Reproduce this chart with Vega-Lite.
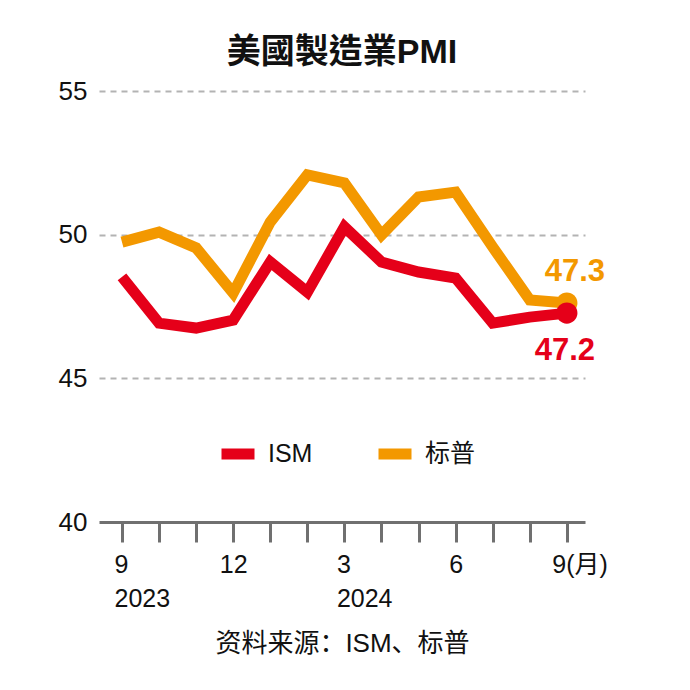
{
  "$schema": "https://vega.github.io/schema/vega-lite/v6.json",
  "width": 486,
  "height": 431,
  "autosize": {"type": "none"},
  "padding": {"left": 99, "top": 91, "right": 105, "bottom": 168},
  "background": "white",
  "title": {
    "text": "美國製造業PMI",
    "font": "Liberation Sans, Noto Sans CJK TC",
    "fontSize": 34,
    "fontWeight": "bold",
    "color": "#111111",
    "anchor": "middle",
    "offset": 8
  },
  "config": {
    "view": {"stroke": null},
    "font": "Liberation Sans, Noto Sans CJK SC"
  },
  "data": {
    "values": [
      {"idx": 0, "series": "ISM", "value": 48.53},
      {"idx": 1, "series": "ISM", "value": 46.92},
      {"idx": 2, "series": "ISM", "value": 46.75},
      {"idx": 3, "series": "ISM", "value": 47.03},
      {"idx": 4, "series": "ISM", "value": 49.05},
      {"idx": 5, "series": "ISM", "value": 48.0},
      {"idx": 6, "series": "ISM", "value": 50.27},
      {"idx": 7, "series": "ISM", "value": 49.05},
      {"idx": 8, "series": "ISM", "value": 48.7},
      {"idx": 9, "series": "ISM", "value": 48.49},
      {"idx": 10, "series": "ISM", "value": 46.92},
      {"idx": 11, "series": "ISM", "value": 47.13},
      {"idx": 12, "series": "ISM", "value": 47.27, "label": "47.2"},
      {"idx": 0, "series": "标普", "value": 49.74},
      {"idx": 1, "series": "标普", "value": 50.09},
      {"idx": 2, "series": "标普", "value": 49.54},
      {"idx": 3, "series": "标普", "value": 47.97},
      {"idx": 4, "series": "标普", "value": 50.44},
      {"idx": 5, "series": "标普", "value": 52.08},
      {"idx": 6, "series": "标普", "value": 51.8},
      {"idx": 7, "series": "标普", "value": 49.99},
      {"idx": 8, "series": "标普", "value": 51.31},
      {"idx": 9, "series": "标普", "value": 51.48},
      {"idx": 10, "series": "标普", "value": 49.57},
      {"idx": 11, "series": "标普", "value": 47.73},
      {"idx": 12, "series": "标普", "value": 47.62, "label": "47.3"}
    ]
  },
  "encoding": {
    "x": {
      "field": "idx",
      "type": "quantitative",
      "scale": {"domain": [-0.62, 12.49], "nice": false, "zero": false},
      "axis": {
        "values": [0, 1, 2, 3, 4, 5, 6, 7, 8, 9, 10, 11, 12],
        "labelExpr": "datum.value==0 ? ['9','2023'] : datum.value==3 ? '12' : datum.value==6 ? ['3','2024'] : datum.value==9 ? '6' : datum.value==12 ? '9(月)' : ''",
        "labelAlign": {"condition": {"test": "datum.value==0 || datum.value==6 || datum.value==12", "value": "left"}, "value": "center"},
        "labelOffset": {"condition": [{"test": "datum.value==0", "value": -8}, {"test": "datum.value==6", "value": -8}, {"test": "datum.value==12", "value": -15}], "value": 0},
        "labelFlush": false,
        "labelOverlap": false,
        "labelBound": false,
        "labelFontSize": 25,
        "labelLineHeight": 34,
        "labelPadding": 10,
        "labelColor": "#111111",
        "labelFont": "Liberation Sans, Noto Sans CJK SC",
        "grid": false,
        "domainColor": "#707070",
        "domainWidth": 3,
        "tickColor": "#707070",
        "tickWidth": 3,
        "tickSize": 20,
        "title": "资料来源：ISM、标普",
        "titleFont": "Liberation Sans, Noto Sans CJK SC",
        "titleFontSize": 26,
        "titleFontWeight": "normal",
        "titleColor": "#111111",
        "titlePadding": 19
      }
    },
    "y": {
      "field": "value",
      "type": "quantitative",
      "scale": {"domain": [40, 55], "nice": false, "zero": false},
      "axis": {
        "values": [40, 45, 50, 55],
        "domain": false,
        "ticks": false,
        "labelPadding": 12,
        "labelFontSize": 26,
        "labelColor": "#111111",
        "labelFont": "Liberation Sans",
        "grid": true,
        "gridDash": [6, 5],
        "gridColor": "#b3b3b3",
        "gridWidth": 2,
        "gridOpacity": {"condition": {"test": "datum.value==40", "value": 0}, "value": 1},
        "title": null
      }
    }
  },
  "layer": [
    {
      "mark": {"type": "line", "strokeWidth": 11, "strokeJoin": "miter"},
      "encoding": {
        "color": {
          "field": "series",
          "type": "nominal",
          "scale": {"domain": ["ISM", "标普"], "range": ["#E50019", "#F39800"]},
          "legend": {
            "title": null,
            "orient": "none",
            "legendX": 117,
            "legendY": 341,
            "direction": "horizontal",
            "symbolType": "stroke",
            "symbolStrokeWidth": 11,
            "symbolSize": 1089,
            "labelFontSize": 25,
            "labelFont": "Liberation Sans, Noto Sans CJK SC",
            "labelColor": "#111111",
            "labelOffset": 8,
            "columnPadding": 43
          }
        },
        "order": {"field": "idx", "type": "quantitative"}
      }
    },
    {
      "transform": [{"filter": "datum.idx == 12"}],
      "mark": {"type": "circle", "size": 450, "opacity": 1},
      "encoding": {
        "color": {"field": "series", "type": "nominal", "legend": null},
        "order": {"field": "series", "type": "nominal", "sort": "descending"}
      }
    },
    {
      "transform": [{"filter": "datum.idx == 12 && datum.series == '标普'"}],
      "mark": {"type": "text", "fontSize": 31, "fontWeight": "bold", "font": "Liberation Sans", "dx": 8, "dy": -31, "align": "center", "baseline": "middle", "color": "#F39800"},
      "encoding": {"text": {"field": "label"}}
    },
    {
      "transform": [{"filter": "datum.idx == 12 && datum.series == 'ISM'"}],
      "mark": {"type": "text", "fontSize": 31, "fontWeight": "bold", "font": "Liberation Sans", "dx": -2, "dy": 38, "align": "center", "baseline": "middle", "color": "#E50019"},
      "encoding": {"text": {"field": "label"}}
    }
  ]
}
